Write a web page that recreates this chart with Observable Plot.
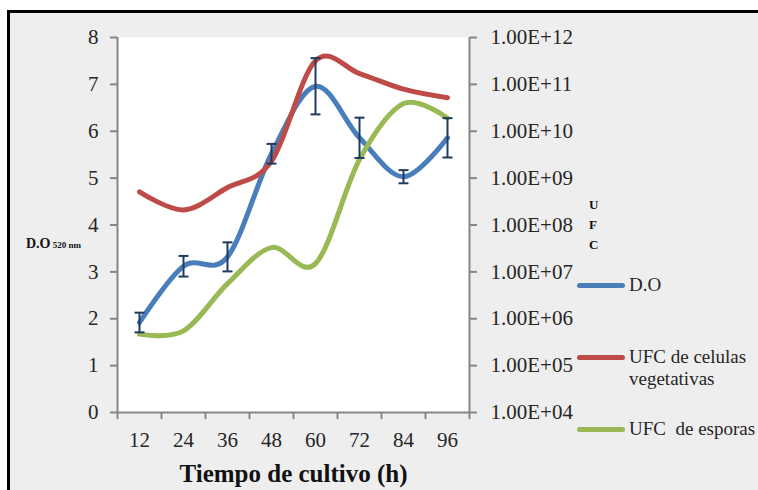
<!DOCTYPE html>
<html>
<head>
<meta charset="utf-8">
<script src="https://cdn.jsdelivr.net/npm/d3@7"></script>
<script src="https://cdn.jsdelivr.net/npm/@observablehq/plot@0.6"></script>
<style>
  html, body { margin: 0; padding: 0; background: #ffffff; overflow: hidden; }
  #wrap { position: relative; width: 758px; height: 490px; font-family: "Liberation Serif", serif; color: #262626; }
  #bg { position: absolute; left: 7px; top: 10px; width: 820px; height: 560px; background: #eeeeee; border: 3px solid #000; }
  #chart { position: absolute; left: 0; top: 0; }
  .abs { position: absolute; white-space: nowrap; }
  .sw { position: absolute; height: 5px; width: 48px; border-radius: 3px; }
</style>
</head>
<body>
<div id="wrap">
  <div id="bg"></div>
  <div id="chart"></div>
</div>
<script>
// ---- data ----
const hours = [12, 24, 36, 48, 60, 72, 84, 96];
const opticalDensity = [1.92, 3.12, 3.32, 5.52, 6.96, 5.86, 5.03, 5.86];
const opticalDensityError = [0.21, 0.22, 0.31, 0.21, 0.60, 0.43, 0.14, 0.42];
const ufcVegetative = [5.1e8, 2.1e8, 6.3e8, 2.3e9, 3.2e11, 1.7e11, 7.9e10, 5.2e10];
const ufcSpores = [4.7e5, 5.5e5, 5.6e6, 3.3e7, 1.5e7, 2.5e9, 3.9e10, 1.9e10];
const leftTicks = [0, 1, 2, 3, 4, 5, 6, 7, 8];
const rightTickLabels = ["1.00E+04", "1.00E+05", "1.00E+06", "1.00E+07", "1.00E+08", "1.00E+09", "1.00E+10", "1.00E+11", "1.00E+12"];
const seriesNames = ["D.O", "UFC de celulas vegetativas", "UFC  de esporas"];
const colors = ["#4a7ebb", "#be4b48", "#98b954"];
const xTitle = "Tiempo de cultivo (h)";

// ---- tables ----
const doData = hours.map((h, i) => ({hour: h, v: opticalDensity[i], err: opticalDensityError[i]}));
const vegData = hours.map((h, i) => ({hour: h, v: ufcVegetative[i]}));
const sporeData = hours.map((h, i) => ({hour: h, v: ufcSpores[i]}));
const halfStep = (hours[1] - hours[0]) / 2;
const xBoundaries = hours.map(h => h - halfStep).concat([hours[hours.length - 1] + halfStep]);
const logToLeft = d => Math.log10(d.v) - 4; // right log axis 1E+04..1E+12 shares the 0..8 frame

const capSymbol = { draw(ctx) { ctx.moveTo(-5, 0); ctx.lineTo(5, 0); } };
const axisGray = "#868686";

const plot = Plot.plot({
  width: 758,
  height: 490,
  marginLeft: 117,
  marginRight: 289,
  marginTop: 37,
  marginBottom: 78,
  style: { fontFamily: "Liberation Serif, serif", fontSize: "21px", background: "transparent", color: "#262626", overflow: "visible" },
  x: { domain: [xBoundaries[0], xBoundaries[xBoundaries.length - 1]], axis: null },
  y: { domain: [0, 8], axis: null },
  marks: [
    Plot.frame({ fill: "white" }),
    Plot.ruleX([xBoundaries[0]], { stroke: axisGray, strokeWidth: 2 }),
    Plot.ruleX([xBoundaries[xBoundaries.length - 1]], { stroke: axisGray, strokeWidth: 2 }),
    Plot.ruleY([0], { stroke: axisGray, strokeWidth: 2 }),
    Plot.axisY({ anchor: "left", ticks: leftTicks, tickSize: 7, tickPadding: 12, stroke: axisGray, strokeWidth: 2, label: null, fontSize: 21 }),
    Plot.axisY({ anchor: "right", ticks: leftTicks, tickFormat: i => rightTickLabels[i], tickSize: 7, tickPadding: 14, stroke: axisGray, strokeWidth: 2, label: null, fontSize: 21 }),
    Plot.axisX({ ticks: xBoundaries, tickFormat: () => "", tickSize: 7, stroke: axisGray, strokeWidth: 2, label: null }),
    Plot.axisX({ ticks: hours, tickSize: 0, tickPadding: 20, label: null, fontSize: 21 }),
    Plot.line(doData, { x: "hour", y: "v", stroke: colors[0], strokeWidth: 5, curve: "cardinal" }),
    Plot.line(vegData, { x: "hour", y: logToLeft, stroke: colors[1], strokeWidth: 5, curve: "cardinal" }),
    Plot.line(sporeData, { x: "hour", y: logToLeft, stroke: colors[2], strokeWidth: 5, curve: "cardinal" }),
    Plot.ruleX(doData, { x: "hour", y1: d => d.v - d.err, y2: d => d.v + d.err, stroke: "#1f3b60", strokeWidth: 2 }),
    Plot.dot(doData, { x: "hour", y: d => d.v - d.err, symbol: capSymbol, fill: "none", stroke: "#1f3b60", strokeWidth: 2 }),
    Plot.dot(doData, { x: "hour", y: d => d.v + d.err, symbol: capSymbol, fill: "none", stroke: "#1f3b60", strokeWidth: 2 }),
    Plot.text([xTitle], { frameAnchor: "bottom", lineAnchor: "middle", dy: 61, fontWeight: "bold", fontSize: 25, fill: "#111" })
  ]
});
document.getElementById("chart").appendChild(plot);

// ---- side texts and legend ----
const wrap = document.getElementById("wrap");
function addText(html, left, top, css) {
  const d = document.createElement("div");
  d.className = "abs";
  d.innerHTML = html;
  d.style.left = left + "px";
  d.style.top = top + "px";
  Object.assign(d.style, css || {});
  wrap.appendChild(d);
  return d;
}
// left axis label
addText('D.O<span style="font-size:9px;">&nbsp;520 nm</span>', 26, 236, { fontWeight: "bold", fontSize: "14px", color: "#111" });
// right axis label, stacked letters
["U", "F", "C"].forEach((ch, i) => addText(ch, 589, 197 + i * 20, { fontWeight: "bold", fontSize: "13px", color: "#111" }));

// legend
const legendY = [285, 357, 429];
const legendLabels = [seriesNames[0], "UFC de celulas<br>vegetativas", seriesNames[2]];
legendY.forEach((y, i) => {
  const sw = document.createElement("div");
  sw.className = "sw";
  sw.style.left = "577px";
  sw.style.top = (y - 2.5) + "px";
  sw.style.background = colors[i];
  wrap.appendChild(sw);
  addText(legendLabels[i].replace("UFC  de", "UFC&nbsp; de"), 629, y - 11, { fontSize: "19px", lineHeight: "22px", color: "#262626" });
});
</script>
</body>
</html>
